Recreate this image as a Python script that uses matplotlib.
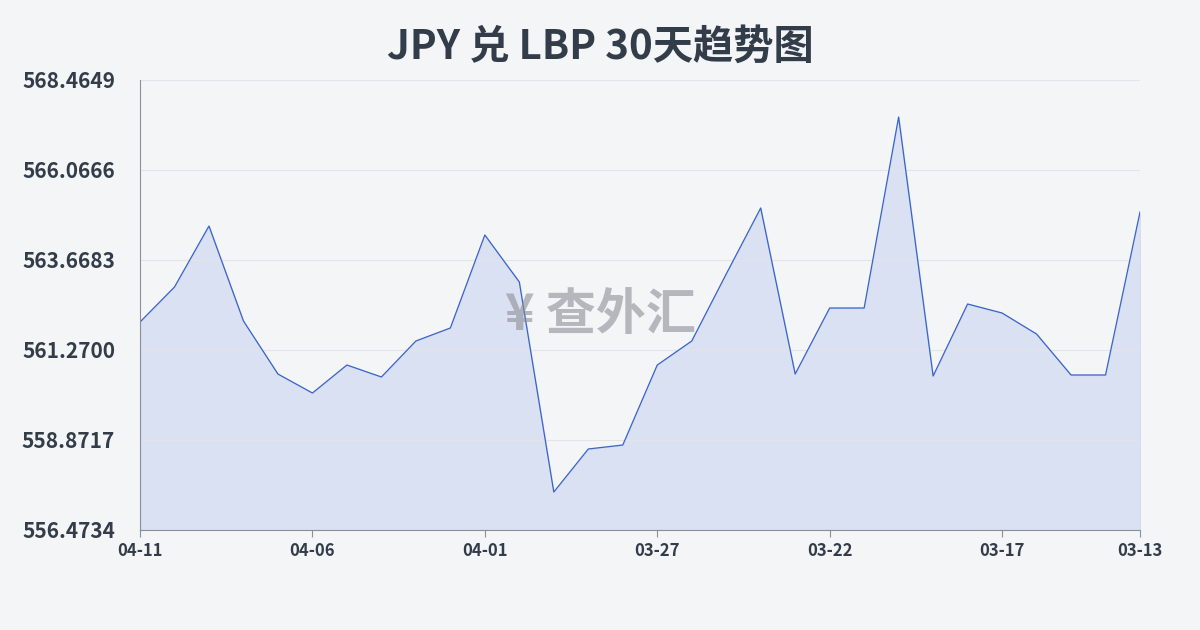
import matplotlib
matplotlib.use("Agg")
import matplotlib.pyplot as plt
import numpy as np

plt.rcParams['font.family'] = ['Noto Sans CJK SC', 'DejaVu Sans']

dates = ["04-11","04-10","04-09","04-08","04-07","04-06","04-05","04-04","04-03","04-02",
         "04-01","03-31","03-30","03-29","03-28","03-27","03-26","03-25","03-24","03-23",
         "03-22","03-21","03-20","03-19","03-18","03-17","03-16","03-15","03-14","03-13"]
values = [562.016,562.949,564.574,562.043,560.630,560.124,560.870,560.551,561.510,561.857,
          564.335,563.082,557.486,558.632,558.738,560.870,561.510,563.295,565.054,560.630,
          562.389,562.389,567.479,560.577,562.496,562.256,561.696,560.604,560.604,564.948]
yticks = [556.4734,558.8717,561.2700,563.6683,566.0666,568.4649]
xtick_labels = ["04-11","04-06","04-01","03-27","03-22","03-17","03-13"]

fig = plt.figure(figsize=(12,6.3), dpi=100)
fig.patch.set_facecolor('#f4f5f7')
ax = fig.add_axes([140/1200, 100/630, 1000/1200, 450/630])
ax.set_facecolor('#f4f5f7')
x = np.arange(len(values))
ax.plot(x, values, color='#3a63c8', lw=0.9)
ax.fill_between(x, values, yticks[0], color='#c9d5f0', alpha=0.6)
ax.set_xlim(0, len(values)-1)
ax.set_ylim(yticks[0], yticks[-1])
ax.set_yticks(yticks)
ax.set_yticklabels([f"{v:.4f}" for v in yticks], fontsize=15, fontweight='bold', color='#333d4a')
pos = [dates.index(d) for d in xtick_labels]
ax.set_xticks(pos)
ax.set_xticklabels(xtick_labels, fontsize=12, fontweight='bold', color='#333d4a')
ax.grid(axis='y', color='#e2e4e8', lw=0.8)
for s in ['top','right']:
    ax.spines[s].set_visible(False)
ax.spines['left'].set_color('#8a8f99')
ax.spines['bottom'].set_color('#8a8f99')
ax.tick_params(axis='y', length=0, pad=18)
ax.tick_params(axis='x', length=5, color='#8a8f99')
fig.text(0.5, 0.925, "JPY 兑 LBP 30天趋势图", ha='center', va='center', fontsize=29, fontweight='bold', color='#333d4a')
fig.text(0.5, 0.5, "¥ 查外汇", ha='center', va='center', fontsize=36, fontweight='bold', color='#8c8f96', alpha=0.6)
fig.savefig("out.png", dpi=100, facecolor=fig.get_facecolor())
